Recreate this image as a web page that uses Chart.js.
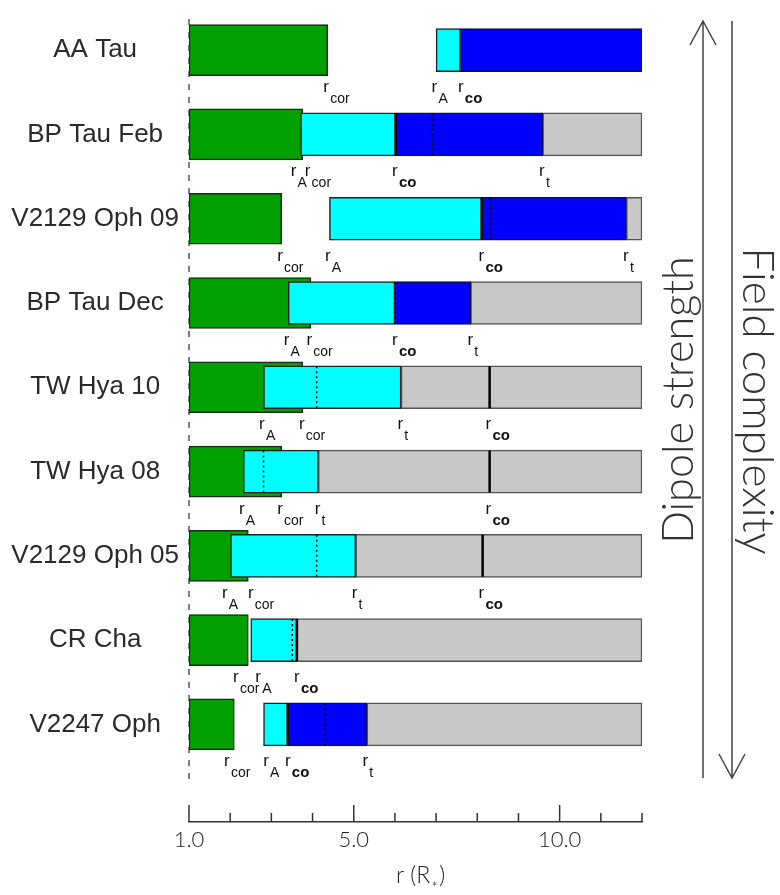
<!DOCTYPE html>
<html>
<head>
<meta charset="utf-8">
<script src="https://cdn.jsdelivr.net/npm/chart.js@4.4.0/dist/chart.umd.min.js"></script>
<style>
  body { margin: 0; background: #fff; }
  canvas { display: block; }
</style>
</head>
<body>
<canvas id="chart" width="780" height="895"></canvas>
<script>
// Estrellas, de arriba abajo
const stars = ["AA Tau", "BP Tau Feb", "V2129 Oph 09", "BP Tau Dec", "TW Hya 10", "TW Hya 08", "V2129 Oph 05", "CR Cha", "V2247 Oph"];

// Corona (verde), desde 1 R* hasta r_cor
const rCor = [4.37, 3.76, 3.25, 3.96, 3.76, 3.25, 2.44, 2.44, 2.10];
// Tramos [inicio, fin] en R*
const cyanSeg = [[7.0, 7.59], [3.71, 6.02], [4.41, 8.11], [3.41, 6.0], [2.81, 6.15], [2.32, 4.14], [2.01, 5.05], [2.50, 3.62], [2.81, 3.40]];
const blueSeg = [[7.59, 12], [6.02, 9.59], [8.11, 11.62], [6.0, 7.84], null, null, null, null, [3.40, 5.32]];
const graySeg = [null, [9.59, 12], [11.62, 12], [7.84, 12], [6.15, 12], [4.14, 12], [5.05, 12], [3.62, 12], [5.32, 12]];

// Lineas verticales: punteada y r_co solida
const dottedR = [null, 6.91, 8.32, 6.0, 4.10, 2.81, 4.10, 3.51, 4.30];
const coLine = [null, 6.02, 8.11, null, 8.30, 8.30, 8.13, 3.62, 3.40];

// Posicion de las etiquetas r_x (en R*)
const labCor = [4.33, 3.88, 3.21, 3.92, 3.74, 3.21, 2.50, 2.14, 1.92];
const labA = [6.96, 3.54, 4.37, 3.37, 2.77, 2.28, 1.87, 2.68, 2.87];
const labCo = [7.60, 6.0, 8.10, 6.0, 8.27, 8.27, 8.10, 3.62, 3.40];
const labT = [null, 9.57, 11.61, 7.83, 6.13, 4.12, 5.02, null, 5.28];

// Eje x
const xMin = 1, xMax = 12;
const xLabeled = [1, 5, 10];

const thin = 'Lato';

function segData(segs) {
    const out = [];
    segs.forEach((s, i) => { if (s) out.push({ x: s, y: i }); });
    return out;
}

function drawLabel(ctx, px, cy, sub, bold) {
    ctx.font = '17px "Liberation Sans"';
    ctx.textAlign = 'center';
    ctx.fillText('r', px, cy + 42);
    ctx.textAlign = 'left';
    ctx.font = (bold ? 'bold 15px' : '14px') + ' "Liberation Sans"';
    ctx.fillText(sub, px + 4, cy + 53);
}

const extras = {
    id: 'extras',
    beforeDatasetsDraw(chart) {
        const { ctx, scales: { x, y } } = chart;
        ctx.save();
        ctx.strokeStyle = '#555';
        ctx.lineWidth = 1.5;
        ctx.setLineDash([6, 7]);
        const px = x.getPixelForValue(1);
        ctx.beginPath();
        ctx.moveTo(px, y.getPixelForValue(-0.37));
        ctx.lineTo(px, y.getPixelForValue(8.65));
        ctx.stroke();
        ctx.restore();
    },
    afterDatasetsDraw(chart) {
        const { ctx, chartArea, scales: { x, y } } = chart;
        ctx.save();

        stars.forEach((s, i) => {
            const cy = y.getPixelForValue(i);
            if (dottedR[i] != null) {
                const px = x.getPixelForValue(dottedR[i]);
                ctx.strokeStyle = '#000';
                ctx.lineWidth = 1.5;
                ctx.setLineDash([2, 3]);
                ctx.beginPath();
                ctx.moveTo(px, cy - 21);
                ctx.lineTo(px, cy + 21);
                ctx.stroke();
            }
            if (coLine[i] != null) {
                const px = x.getPixelForValue(coLine[i]);
                ctx.strokeStyle = '#000';
                ctx.lineWidth = 2.5;
                ctx.setLineDash([]);
                ctx.beginPath();
                ctx.moveTo(px, cy - 21);
                ctx.lineTo(px, cy + 21);
                ctx.stroke();
            }
            ctx.fillStyle = '#111';
            drawLabel(ctx, x.getPixelForValue(labCor[i]), cy, 'cor', false);
            drawLabel(ctx, x.getPixelForValue(labA[i]), cy, 'A', false);
            drawLabel(ctx, x.getPixelForValue(labCo[i]), cy, 'co', true);
            if (labT[i] != null) drawLabel(ctx, x.getPixelForValue(labT[i]), cy, 't', false);
        });

        // marcas del eje x, hacia dentro
        ctx.setLineDash([]);
        ctx.strokeStyle = '#333';
        ctx.lineWidth = 1.5;
        x.ticks.forEach(t => {
            const px = x.getPixelForValue(t.value);
            const len = xLabeled.includes(t.value) ? 17 : 9;
            ctx.beginPath();
            ctx.moveTo(px, chartArea.bottom);
            ctx.lineTo(px, chartArea.bottom - len);
            ctx.stroke();
        });

        // titulo del eje x: r (R*)
        ctx.fillStyle = '#222';
        ctx.font = '300 23px ' + thin;
        ctx.textAlign = 'left';
        ctx.textBaseline = 'alphabetic';
        const t1 = 'r (R';
        const w1 = ctx.measureText(t1).width;
        const x0 = 396;
        ctx.fillText(t1, x0, 883);
        ctx.font = '300 16px ' + thin;
        ctx.fillText('*', x0 + w1 + 1, 893);
        ctx.font = '300 23px ' + thin;
        ctx.fillText(')', x0 + w1 + 9, 883);

        // flechas
        ctx.strokeStyle = '#444';
        ctx.lineWidth = 1.5;
        ctx.beginPath();
        ctx.moveTo(703, 778); ctx.lineTo(703, 21);
        ctx.moveTo(690, 45); ctx.lineTo(703, 21); ctx.lineTo(716, 45);
        ctx.moveTo(732, 21); ctx.lineTo(732, 778);
        ctx.moveTo(719, 754); ctx.lineTo(732, 778); ctx.lineTo(745, 754);
        ctx.stroke();

        // textos laterales
        ctx.fillStyle = '#333';
        ctx.textAlign = 'center';
        ctx.textBaseline = 'middle';
        const side = (txt, cx, cyy, ang, target) => {
            ctx.font = '300 40px ' + thin;
            const size = 40 * target / ctx.measureText(txt).width;
            ctx.font = '300 ' + size.toFixed(1) + 'px ' + thin;
            ctx.save();
            ctx.translate(cx, cyy);
            ctx.rotate(ang);
            ctx.fillText(txt, 0, 0);
            ctx.restore();
        };
        side('Dipole strength', 679, 400, -Math.PI / 2, 288);
        side('Field complexity', 757, 401, Math.PI / 2, 307);

        ctx.restore();
    }
};

new Chart(document.getElementById('chart'), {
    type: 'bar',
    data: {
        datasets: [
            {
                label: 'corona',
                data: rCor.map((r, i) => ({ x: [1, r], y: i })),
                backgroundColor: '#00a000',
                borderColor: '#1a2a1a',
                borderWidth: 1.5,
                barThickness: 51,
                order: 1
            },
            {
                label: 'cyan',
                data: segData(cyanSeg),
                backgroundColor: '#00ffff',
                borderColor: '#222',
                borderWidth: 1.5,
                barThickness: 43,
                order: 0
            },
            {
                label: 'blue',
                data: segData(blueSeg),
                backgroundColor: '#0000ff',
                borderColor: '#111144',
                borderWidth: 1.5,
                barThickness: 43,
                order: 0
            },
            {
                label: 'gray',
                data: segData(graySeg),
                backgroundColor: '#c8c8c8',
                borderColor: '#555',
                borderWidth: 1.5,
                barThickness: 43,
                order: 0
            }
        ]
    },
    options: {
        indexAxis: 'y',
        responsive: false,
        animation: false,
        events: [],
        layout: { padding: { top: 8, right: 138, left: 0, bottom: 0 } },
        datasets: { bar: { grouped: false, borderSkipped: false } },
        plugins: { legend: { display: false }, tooltip: { enabled: false } },
        scales: {
            x: {
                type: 'linear',
                min: xMin,
                max: xMax,
                grid: { display: false, drawTicks: false },
                border: { display: true, color: '#333', width: 1.5 },
                ticks: {
                    stepSize: 1,
                    padding: 5,
                    autoSkip: false,
                    maxRotation: 0,
                    color: '#222',
                    font: { family: thin, weight: 300, size: 22 },
                    callback: v => xLabeled.includes(v) ? v.toFixed(1) : ''
                },
                afterFit: s => { s.height = 73; }
            },
            y: {
                type: 'linear',
                reverse: true,
                offset: false,
                min: -0.5,
                max: 9.158,
                grid: { display: false, drawTicks: false },
                border: { display: false },
                afterBuildTicks: s => { s.ticks = stars.map((n, i) => ({ value: i })); },
                ticks: {
                    autoSkip: false,
                    padding: 10,
                    crossAlign: 'center',
                    color: '#2a2a2a',
                    font: { family: 'Liberation Sans', size: 26 },
                    callback: v => stars[v] !== undefined ? stars[v] : ''
                },
                afterFit: s => { s.width = 189; s.paddingTop = 0; s.paddingBottom = 0; }
            }
        }
    },
    plugins: [extras]
});
</script>
</body>
</html>
